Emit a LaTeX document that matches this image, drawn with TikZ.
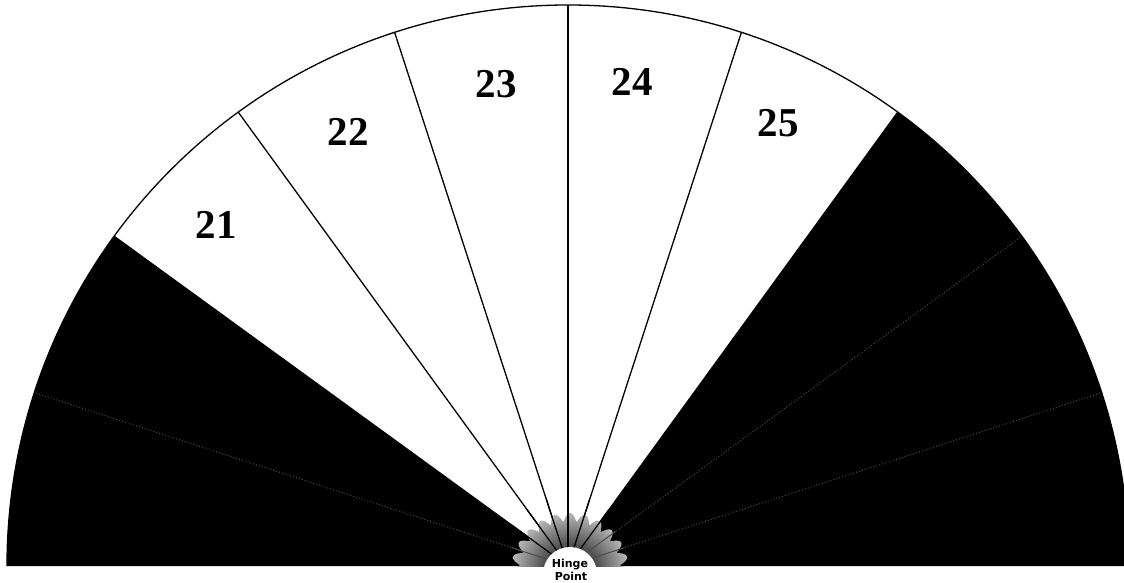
\documentclass[tikz,border=0pt]{standalone}
\usepackage{fontspec}
\setmainfont{Liberation Serif}
\newfontfamily\hingefont{DejaVu Sans}
\pgfdeclareradialshading{hingeshade}{\pgfpoint{0bp}{0bp}}{color(0bp)=(black!80); color(12bp)=(black!68); color(25bp)=(black!28); color(50bp)=(black!28)}
\begin{document}
\begin{tikzpicture}[x=1pt,y=1pt]
\tikzset{
 secline/.style={draw=black, line width=1.3pt},
 dotline/.style={draw={rgb,255:red,75;green,75;blue,75}, line width=1pt, dotted},
 numlabel/.style={font=\fontsize{41}{41}\selectfont\bfseries, inner sep=0pt},
 hingetext/.style={font=\hingefont\bfseries\fontsize{11}{11}\selectfont, inner sep=0pt, anchor=base},
}
\useasboundingbox (0,0) rectangle (1124,582);
\fill[white] (0,0) rectangle (1124,582);
\coordinate (C) at (568,16);
\def\R{561}
% black sectors
\fill[black] (C) -- ++(180:\R) arc[start angle=180,end angle=144,radius=\R] -- cycle;
\fill[black] (C) -- ++(54:\R) arc[start angle=54,end angle=0,radius=\R] -- cycle;
% faint dotted dividers in black
\foreach \a in {162,36,18} \draw[dotline] (C) -- ++(\a:\R);
% sector lines and rim
\foreach \a in {144,126,108,90,72,54} \draw[secline] (C) -- ++(\a:\R);
\draw[secline] (C) ++(180:\R) arc[start angle=180,end angle=0,radius=\R];
% hinge sunburst
\begin{scope}
\clip (0,16) rectangle (1124,582);
\shade[shading=hingeshade] plot[domain=0:360, samples=361, variable=\t]
 ({570+(50+9*abs(cos(12*\t)))*cos(\t)}, {10+(50+9*abs(cos(12*\t)))*sin(\t)}) -- cycle;
\foreach \a in {144,126,108,90,72,54} \draw[secline] (C) -- ++(\a:70);
\foreach \a in {162,36,18} \draw[black!70, line width=1pt] (C) -- ++(\a:59);
\end{scope}
\fill[white] (570,8) circle (27);
\node[hingetext] (hinge) at (570,15) {Hinge};
\node[hingetext] (point) at (571,1.5) {Point};
% labels
\node[numlabel] (n21) at (216,357) {21};
\node[numlabel] (n22) at (348,450) {22};
\node[numlabel] (n23) at (496,498) {23};
\node[numlabel] (n24) at (632,500) {24};
\node[numlabel] (n25) at (778,459) {25};
\end{tikzpicture}
\end{document}
